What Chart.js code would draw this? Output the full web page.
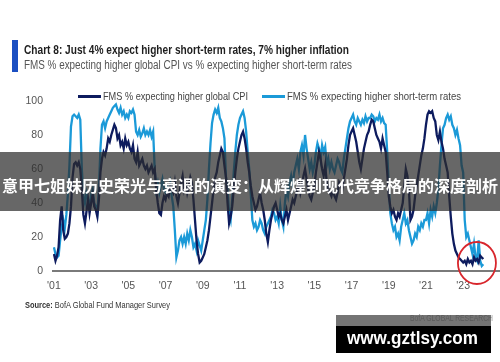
<!DOCTYPE html>
<html><head><meta charset="utf-8">
<script src="https://cdn.jsdelivr.net/npm/chart.js@4.4.1/dist/chart.umd.min.js"></script>
<style>
html,body{margin:0;padding:0;background:#fff;}
#wrap{position:relative;width:500px;height:362px;overflow:hidden;font-family:"Liberation Sans Narrow","Arial Narrow","Liberation Sans",Arial,sans-serif;}
canvas{position:absolute;left:0;top:0;}
.t{position:absolute;white-space:nowrap;transform-origin:0 50%;}
</style></head><body>
<div id="wrap">
<canvas id="c" width="500" height="362"></canvas>
<div style="position:absolute;left:12px;top:40px;width:6px;height:32px;background:#1b4fc2"></div>
<div class="t fit" data-w="325" style="left:24px;top:43px;font-size:13px;font-weight:bold;color:#1e1e1e;line-height:14px">Chart 8: Just 4% expect higher short-term rates, 7% higher inflation</div>
<div class="t fit" data-w="328" style="left:24px;top:58px;font-size:12.5px;color:#555;line-height:14px">FMS % expecting higher global CPI vs % expecting higher short-term rates</div>
<div style="position:absolute;left:78px;top:95px;width:23px;height:2.5px;background:#0d1b5e"></div>
<div class="t fit" data-w="145" style="left:103px;top:90px;font-size:11px;color:#444;line-height:12px">FMS % expecting higher global CPI</div>
<div style="position:absolute;left:262px;top:95px;width:23px;height:2.5px;background:#1b9ad8"></div>
<div class="t fit" data-w="174" style="left:287px;top:90px;font-size:11px;color:#444;line-height:12px">FMS % expecting higher short-term rates</div>
<div class="t fit" data-w="145" style="left:25px;top:300px;font-size:9px;color:#333;line-height:10px"><b>Source:</b> BofA Global Fund Manager Survey</div>
<div class="t fit" data-w="83" style="left:410px;top:313px;font-size:8.5px;color:#999;line-height:10px">BofA GLOBAL RESEARCH</div>
<div style="position:absolute;left:0;top:152px;width:500px;height:59px;background:rgba(45,45,45,0.72)">
  <div style="position:absolute;left:0;top:24px;width:500px;text-align:center;white-space:nowrap;font-family:'Noto Sans CJK SC',sans-serif;font-weight:bold;font-size:16px;line-height:18px;color:#fff">意甲七姐妹历史荣光与衰退的演变：从辉煌到现代竞争格局的深度剖析</div>
</div>
<div style="position:absolute;left:336px;top:315px;width:155px;height:11px;background:rgba(70,70,70,0.75)"></div>
<div style="position:absolute;left:336px;top:326px;width:155px;height:27px;background:#000"></div>
<div class="t fit" data-w="131" style="left:347px;top:328px;font-family:'Liberation Sans',Arial,sans-serif;font-weight:bold;font-size:18px;line-height:20px;color:#fff">www.gztlsy.com</div>
</div>
<script>
const startYear = 2001; // monthly series beginning January 2001
const tickYears = [2001,2003,2005,2007,2009,2011,2013,2015,2017,2019,2021,2023];
const cpi = [
10,6,9,14,30,38,24,19,20,22,28,38,
55,63,64,62,64,60,48,33,28,35,42,34,
40,45,38,36,32,42,58,66,70,68,72,78,
76,80,83,86,84,78,80,74,76,72,78,74,
76,72,70,74,66,64,70,62,64,66,62,60,
62,58,60,62,58,60,48,40,34,33,40,44,
42,46,44,50,48,46,52,44,40,46,52,56,
48,52,46,50,55,52,42,30,18,10,5,6,
8,10,14,18,24,32,40,48,55,58,64,68,
72,70,62,55,40,28,32,38,48,58,66,72,
76,80,82,78,72,64,58,50,44,40,36,38,
42,46,40,36,30,22,17,24,30,34,38,40,
36,32,34,30,28,32,36,30,34,38,42,40,
44,48,52,46,50,56,60,54,48,44,42,46,
50,58,64,70,66,60,56,62,52,48,46,44,
48,44,42,46,52,50,48,54,60,66,74,80,
82,84,80,76,70,64,60,66,72,76,80,82,
86,89,88,84,80,78,76,72,78,74,70,58,
44,38,34,36,32,30,34,32,36,40,50,60,
56,48,30,32,36,44,50,56,62,68,72,78,
86,92,94,93,94,90,88,80,77,82,76,72,
66,62,58,44,32,22,16,12,10,8,7,6,
5,6,4,7,5,6,4,8,6,7,5,9,
8,7];
const rates = [
14,10,8,9,18,26,30,25,33,45,62,85,
91,92,91,90,92,89,60,44,40,46,42,38,
45,48,40,38,34,48,72,86,88,84,88,90,
92,94,96,97,98,95,93,96,92,94,90,92,
90,94,93,95,92,82,80,83,79,81,84,80,
82,80,83,79,82,60,48,52,46,50,54,48,
46,50,48,52,44,38,24,8,12,18,20,16,
20,16,22,18,24,20,14,16,12,18,15,12,
18,24,30,42,60,75,87,92,95,93,96,90,
88,84,78,55,48,34,30,42,58,70,80,86,
90,92,94,90,82,70,60,45,30,26,28,24,
26,30,28,24,22,26,28,30,32,36,34,30,
32,28,38,30,26,40,48,44,52,56,50,58,
62,66,60,70,74,68,80,72,66,60,64,58,
62,70,75,72,66,74,70,73,62,66,60,64,
60,58,62,66,64,60,58,66,72,78,84,88,
90,92,88,86,90,88,86,89,87,91,88,90,
90,92,91,88,90,89,92,88,90,87,86,70,
50,34,28,24,26,20,22,18,26,30,34,28,
30,24,20,16,18,22,20,26,24,28,26,30,
30,34,28,36,32,38,34,40,48,62,74,84,
86,90,92,89,91,86,84,80,83,78,74,62,
58,30,20,22,18,14,10,16,8,6,18,6,
3,4];
const yTicks = [0,20,40,60,80,100];
const highlight = {x: 2023.74, y: 4.7};

const toPts = arr => arr.map((v,i)=>({x: startYear + i/12, y: v}));

document.querySelectorAll('.fit').forEach(el=>{
  const w = el.getBoundingClientRect().width;
  const target = +el.dataset.w;
  el.style.transform = 'scaleX(' + (target / w) + ')';
});

Chart.defaults.font.family = '"Liberation Sans Narrow","Arial Narrow","Liberation Sans",Arial,sans-serif';

const circlePlugin = {
  id: 'circle',
  afterDatasetsDraw(chart){
    const {ctx, scales:{x,y}} = chart;
    ctx.save();
    ctx.beginPath();
    ctx.ellipse(x.getPixelForValue(highlight.x), y.getPixelForValue(highlight.y), 19, 21, 0, 0, Math.PI*2);
    ctx.strokeStyle = '#d8262c';
    ctx.lineWidth = 1.8;
    ctx.stroke();
    ctx.restore();
  }
};

new Chart(document.getElementById('c'), {
  type: 'line',
  data: {
    datasets: [
      {label:'FMS % expecting higher global CPI', data: toPts(cpi), borderColor:'#0d1b5e', borderWidth:2.3, pointRadius:0, tension:0},
      {label:'FMS % expecting higher short-term rates', data: toPts(rates), borderColor:'#1b9ad8', borderWidth:2.3, pointRadius:0, tension:0}
    ]
  },
  options: {
    responsive:false, animation:false, devicePixelRatio:1,
    layout:{padding:{top:101,left:0,right:0,bottom:61}},
    plugins:{legend:{display:false}, tooltip:{enabled:false}},
    scales:{
      x:{type:'linear', min:2000.95, max:2024.98,
         afterBuildTicks: s => { s.ticks = tickYears.map(v=>({value:v})); },
         afterFit: s => { s.height = 30; },
         grid:{display:false, drawTicks:false},
         border:{display:true, color:'#7a7a7a', width:2},
         ticks:{color:'#555', font:{size:10.5}, padding:9, maxRotation:0, autoSkip:false,
                callback: v => "'" + String(v).slice(2)}},
      y:{min:0, max:100,
         afterBuildTicks: s => { s.ticks = yTicks.map(v=>({value:v})); },
         afterFit: s => { s.width = 53; },
         grid:{display:false, drawTicks:false},
         border:{display:false},
         ticks:{color:'#555', font:{size:10.5}, padding:10}}
    }
  },
  plugins:[circlePlugin]
});
</script>
</body></html>
